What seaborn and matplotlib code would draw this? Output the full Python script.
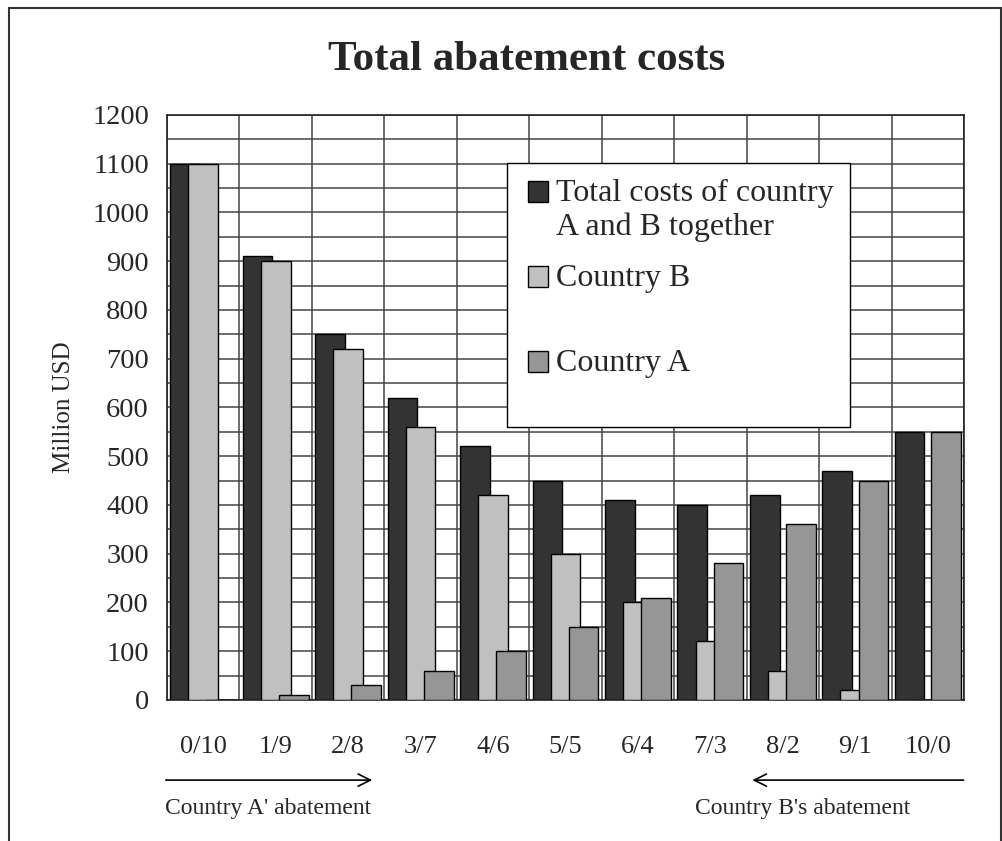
import numpy as np
import pandas as pd
import matplotlib
matplotlib.use("Agg")
import matplotlib.pyplot as plt
from matplotlib.patches import Rectangle, Patch
from matplotlib.ticker import MultipleLocator, FixedLocator, NullFormatter
import seaborn as sns

# ---- data -------------------------------------------------------------
categories = ["0/10", "1/9", "2/8", "3/7", "4/6", "5/5",
              "6/4", "7/3", "8/2", "9/1", "10/0"]
total_costs = [1100, 910, 750, 620, 520, 450, 410, 400, 420, 470, 550]
country_b = [1100, 900, 720, 560, 420, 300, 200, 120, 60, 20, 0]
country_a = [0, 10, 30, 60, 100, 150, 210, 280, 360, 450, 550]

series_names = ["Total costs of country\nA and B together", "Country B", "Country A"]
series_colors = ["#333333", "#c0c0c0", "#969696"]

df = pd.DataFrame({
    "split": categories * 3,
    "cost": total_costs + country_b + country_a,
    "series": [series_names[0]] * len(categories)
              + [series_names[1]] * len(categories)
              + [series_names[2]] * len(categories),
})

# ---- style ------------------------------------------------------------
sns.set_style("white")
plt.rcParams["font.family"] = ["Liberation Serif", "DejaVu Serif"]

fig = plt.figure(figsize=(10.03, 8.41), dpi=100)
ax = fig.add_axes([0.1665, 0.1677, 0.7946, 0.6956])

sns.barplot(data=df, x="split", y="cost", hue="series",
            hue_order=series_names, order=categories,
            palette=series_colors, edgecolor="black", linewidth=1.0,
            saturation=1, errorbar=None, ax=ax, legend=False)

# overlapping clustered bars
bar_w = 0.41
offsets = [-0.25, 0.0, 0.25]
for k, cont in enumerate(ax.containers):
    for j, bar in enumerate(cont.patches):
        bar.set_width(bar_w)
        bar.set_x(j + offsets[k] - bar_w / 2)
        bar.set_zorder(2 + k)

# ---- axes -------------------------------------------------------------
ax.set_xlim(-0.5, len(categories) - 0.5)
ax.set_ylim(0, 1200)
ax.set_axisbelow(True)

grid_kw = dict(color="#444444", linewidth=1.1)
ax.yaxis.set_major_locator(MultipleLocator(100))
ax.yaxis.set_minor_locator(MultipleLocator(50))
ax.grid(True, which="major", axis="y", **grid_kw)
ax.grid(True, which="minor", axis="y", **grid_kw)

# category boundaries carry ticks and grid, labels sit at centres
ax.xaxis.set_major_locator(FixedLocator(np.arange(-0.5, len(categories), 1.0)))
ax.xaxis.set_major_formatter(NullFormatter())
ax.xaxis.set_minor_locator(FixedLocator(np.arange(len(categories))))
ax.set_xticklabels(categories, minor=True)
ax.grid(True, which="major", axis="x", **grid_kw)

ax.tick_params(axis="x", which="major", direction="out", length=5, width=1.1, color="#333333")
ax.tick_params(axis="x", which="minor", length=0, pad=26, labelsize=19)
ax.tick_params(axis="y", which="major", direction="out", length=5, width=1.1,
               color="#333333", labelsize=20.5, pad=8)
ax.tick_params(axis="y", which="minor", length=0)

for s in ax.spines.values():
    s.set_color("#222222")
    s.set_linewidth(1.2)

ax.set_xlabel("")
ax.set_ylabel("Million USD", fontsize=18, labelpad=12)
fig.text(0.5254, 0.9287, "Total abatement costs", fontsize=31,
         fontweight="bold", ha="center", va="center")

# ---- legend -----------------------------------------------------------
handles = [Patch(facecolor=c, edgecolor="black", linewidth=1.0) for c in series_colors]
legend_labels = [series_names[0], series_names[1] + "\n", series_names[2] + "\n"]
leg = ax.legend(handles, legend_labels, loc="upper left",
                bbox_to_anchor=(0.4266, 0.918), borderaxespad=0,
                fontsize=23, frameon=True, fancybox=False, shadow=False,
                framealpha=1, edgecolor="black", handlelength=0.62,
                handleheight=0.62, handletextpad=0.42, labelspacing=0.70,
                borderpad=0.5)
leg.get_frame().set_linewidth(1.0)
leg.set_zorder(10)
for t in leg.get_texts():
    t.set_linespacing(1.2)
# align each swatch with the first line of its label
for h in leg.legend_handles:
    h.set_y(h.get_y() + 13.4)
    h.set_x(h.get_x() + 3.5)

# ---- abatement direction arrows ----------------------------------------
arrow_kw = dict(arrowstyle="->", color="black", linewidth=1.2, mutation_scale=22)
ax.annotate("", xy=(0.261, -0.137), xytext=(-0.005, -0.137),
            xycoords="axes fraction", arrowprops=arrow_kw, annotation_clip=False)
ax.annotate("", xy=(0.731, -0.137), xytext=(1.003, -0.137),
            xycoords="axes fraction", arrowprops=arrow_kw, annotation_clip=False)
ax.text(0.127, -0.186, "Country A' abatement", transform=ax.transAxes,
        ha="center", va="center", fontsize=17)
ax.text(0.797, -0.186, "Country B's abatement", transform=ax.transAxes,
        ha="center", va="center", fontsize=17)

# outer chart frame (open at the bottom edge)
fig.patches.append(Rectangle((9 / 1003, -0.05), 992 / 1003, 1.05 - 8 / 841,
                             transform=fig.transFigure, fill=False,
                             edgecolor="#333333", linewidth=1.5))

fig.savefig("out.png", dpi=100)
